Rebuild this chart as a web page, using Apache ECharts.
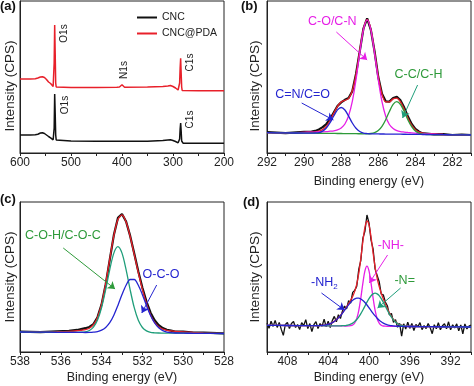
<!DOCTYPE html>
<html><head><meta charset="utf-8">
<script src="https://cdn.jsdelivr.net/npm/echarts/dist/echarts.min.js"></script>
<style>html,body{margin:0;padding:0;background:#fff}#c{width:474px;height:386px}</style>
</head><body><div id="c"></div>
<script>
// ---------- Panel (a): survey spectra ----------
const aEnergy = [600,580,570,565,560,556,552,548,544,540,537,535,534,533,532,531,530,529,528,500,450,410,405,402,400,398,395,350,320,310,305,300,295,292,290,288,287,286,285,284,283,282,280,250,200];
const aCNC = [18,18,18.2,18.8,20,20.3,19.5,18,16.5,15.2,13.8,13.2,14,25,59,40,18,13,12,12,11.8,11.7,11.7,11.7,11.7,11.7,11.7,11.8,12.5,13,13.2,12.5,11.5,10.5,10.2,10.5,14,24,30,22,12,10,9.7,9.7,9.7];
const aPDA = [74,74,74.3,75,76,76.3,75.5,73.5,71,69.5,67.5,66.5,68,90,128,100,70,66,65.5,65.5,65.5,65.7,66,66.8,68.2,66.5,65.8,66,66.5,67,67.5,66.5,65,63.5,63,63.5,70,85,94.7,80,66,62.5,62.3,62.3,62.3];

// ---------- Panel (b): C1s ----------
const bEnergy = [292,291,290,289.6,289.4,289.2,289.0,288.8,288.6,288.4,288.2,288.0,287.8,287.6,287.4,287.2,287.0,286.8,286.6,286.4,286.2,286.0,285.8,285.6,285.4,285.2,285.0,284.8,284.6,284.4,284.2,284.0,283.8,283.6,283.4,283.0,282.5,282.0,281.5,281.0];
const bRaw = [20.8,19.8,21.1,21.4,22.1,23.6,25.9,29.0,34.0,40.5,47.0,50.6,53.2,54.9,61.8,79.1,101.5,124.4,134.7,123.1,101.5,75.9,59.3,51.7,51.4,55.0,56.1,52.6,45.4,36.4,29.0,24.1,21.3,19.6,19.5,18.7,18.8,18.0,18.3,18.0];
const bEnvelope = [20.3,20.1,20.7,20.8,21.1,21.8,23.4,26.8,32.5,39.7,46.7,51.1,52.6,54.7,62.3,78.7,102.1,123.9,133.5,123.5,100.9,76.4,58.9,51.1,51.1,54.2,54.9,51.1,43.6,34.8,27.8,23.3,20.9,19.9,19.3,18.9,18.5,18.2,18.1,18.0];
const bCO = [20.3,20.1,20.7,20.8,20.9,21.1,21.2,21.4,21.8,22.2,23.1,25.1,29.0,37.2,51.6,73.3,99.9,123.2,133.2,123.1,99.7,73.1,51.3,36.8,28.5,24.5,22.4,21.4,20.95,20.5,20.1,19.8,19.5,19.3,19.1,18.9,18.5,18.2,18.1,18.0];
const bCC = [20.3,20.1,19.9,19.8,19.8,19.7,19.7,19.6,19.6,19.55,19.5,19.5,19.4,19.4,19.3,19.3,19.25,19.2,19.2,19.5,20.3,22.4,26.6,33.3,41.5,48.6,51.3,48.5,41.4,33.0,26.3,21.9,19.8,18.9,18.5,18.4,18.3,18.2,18.1,18.0];
const bCN = [20.3,20.1,19.9,19.8,20.0,20.4,21.9,25.0,30.3,37.0,43.1,45.5,43.0,36.9,30.0,24.7,21.5,19.9,19.4,19.1,19.1,19.05,19.0,18.96,18.9,18.9,18.8,18.8,18.75,18.7,18.7,18.6,18.6,18.5,18.5,18.4,18.3,18.2,18.1,18.0];

// ---------- Panel (c): O1s ----------
const cEnergy = [538,537,536.2,535.6,535.2,535.0,534.8,534.6,534.4,534.2,534.0,533.8,533.6,533.4,533.2,533.0,532.8,532.6,532.4,532.2,532.0,531.8,531.6,531.4,531.2,531.0,530.8,530.6,530.4,530.0,529.5,529.0,528.0];
const cRaw = [20.4,19.85,20.6,21.1,22.05,22.95,23.8,25.0,27.9,34.8,47.6,67.6,92.4,116.9,134.1,138.05,130.5,116.1,98.6,80.5,64.3,50.4,39.3,31.7,26.8,23.85,22.3,21.4,20.4,20.3,19.3,19.35,18.7];
const cEnvelope = [20.0,20.15,20.3,20.6,21.25,21.75,22.3,23.8,27.3,34.6,48.1,68.4,92.9,116.4,132.6,137.05,130.0,115.5,97.6,79.3,62.7,48.4,37.1,29.7,25.2,22.85,21.7,21.1,20.6,20.0,19.5,19.15,18.7];
const cCOH = [20.0,19.85,19.7,19.6,19.65,19.75,20.1,21.5,24.9,32.0,44.5,62.4,82.5,98.9,105.3,98.85,82.4,62.2,44.3,31.7,24.5,21.1,19.6,19.2,19.0,18.95,18.9,18.9,18.9,18.8,18.7,18.65,18.5];
const cOCO = [20.0,19.85,19.7,19.6,19.6,19.55,19.5,19.6,19.9,20.4,21.8,24.6,29.3,36.8,46.6,57.45,66.8,72.5,72.5,66.7,57.3,46.4,36.5,29.0,24.2,21.35,19.9,19.3,19.0,18.8,18.7,18.65,18.5];

// ---------- Panel (d): N1s ----------
const dEnergy = [410,409.8,409.6,409.4,409.2,409,408.8,408.6,408.4,408.2,408,407.8,407.6,407.4,407.2,407,406.8,406.6,406.4,406.2,406,405.8,405.6,405.4,405.2,405,404.8,404.6,404.4,404.2,404,403.8,403.6,403.4,403.2,403,402.8,402.6,402.4,402.2,402,401.8,401.6,401.4,401.2,401,400.8,400.6,400.4,400.2,400,399.8,399.6,399.4,399.2,399,398.8,398.6,398.4,398.2,398,397.8,397.6,397.4,397.2,397,396.8,396.6,396.4,396.2,396,395.8,395.6,395.4,395.2,395,394.8,394.6,394.4,394.2,394,393.8,393.6,393.4,393.2,393,392.8,392.6,392.4,392.2,392,391.8,391.6,391.4,391.2,391,390.8,390.6,390.4,390.2,390];
const dRaw = [28.7,23.7,30.7,25.6,31.6,24.6,29.6,22.6,16.6,27.5,29.5,23.5,28.5,30.5,24.5,27.4,22.4,29.4,26.4,32.4,23.4,28.4,20.4,27.4,30.4,23.5,28.5,25.6,32.9,25.2,30.7,24.4,31.4,35.6,30.2,37.2,33.5,41.1,46.0,43.1,51.3,48.8,59.6,61.6,65.9,82.8,91.7,113.7,120.7,137.0,129.1,111.9,103.2,82.9,76.6,70.3,57.8,57.2,50.0,46.3,37.1,38.5,29.6,32.4,24.7,28.6,15.8,28.2,22.9,29.7,23.6,28.5,21.5,27.5,25.4,29.4,22.4,26.4,23.4,28.4,24.3,18.3,27.3,23.3,29.3,22.3,26.2,28.2,23.2,30.2,22.2,27.2,24.1,28.1,21.1,27.1,18.1,28.1,23.0,26.0,27.0];
const dFitEnergy = [410,408,406,405,404.6,404.2,403.8,403.4,403.0,402.8,402.6,402.4,402.2,402.0,401.8,401.6,401.4,401.2,401.0,400.8,400.6,400.4,400.2,400.0,399.8,399.6,399.4,399.2,399.0,398.8,398.6,398.4,398.2,398.0,397.8,397.6,397.4,397.2,397.0,396.6,396.2,395.8,395.4,395,394,392,390];
const dEnvelope = [26.7,26.5,26.4,26.45,26.6,27.2,28.4,30.6,34.2,36.5,39.1,42.0,45.1,48.3,51.8,55.6,60.6,67.9,78.8,93.7,110.7,124.7,131.0,127.1,114.9,99.2,84.9,73.6,65.3,58.8,53.2,48.0,43.3,39.1,35.5,32.6,30.4,28.7,27.6,26.2,25.7,25.5,25.5,25.4,25.3,25.2,25.0];
const dNH = [26.7,26.5,26.4,26.3,26.3,26.2,26.2,26.1,26.1,26.1,26.1,26.0,26.0,26.1,26.3,27.0,29.0,33.5,41.7,54.2,68.9,81.1,85.9,81.1,68.8,54.1,41.6,33.3,28.8,26.8,26.0,25.8,25.7,25.7,25.7,25.6,25.6,25.6,25.6,25.6,25.5,25.5,25.5,25.4,25.3,25.2,25.0];
const dN = [26.7,26.5,26.4,26.3,26.3,26.2,26.2,26.1,26.15,26.2,26.3,26.4,26.7,27.1,27.85,28.9,30.5,32.45,35.1,38.3,42.0,45.9,49.9,53.45,56.3,58.1,58.8,58.1,56.3,53.35,49.7,45.7,41.8,38.1,34.9,32.15,30.1,28.5,27.45,26.2,25.7,25.5,25.5,25.4,25.3,25.2,25.0];
const dNH2 = [26.7,26.5,26.4,26.45,26.6,27.2,28.4,30.55,34.1,36.4,38.9,41.65,44.4,47.1,49.6,51.7,53.1,53.85,53.85,53.0,51.6,49.5,47.0,44.25,41.4,38.6,36.1,33.8,31.8,30.2,28.9,27.9,27.2,26.7,26.3,26.05,25.85,25.75,25.7,25.6,25.5,25.5,25.5,25.4,25.3,25.2,25.0];

// ---------- build chart ----------
const FONT = '"Liberation Sans", Arial, Helvetica, sans-serif';
const AX = '#222';
const RED = '#e8202a', BLACK = '#111', MAG = '#e61ee6', GRN = '#2e9a3a', TEAL = '#1f9e7a', BLUE = '#2424d0';
const pair = (xs, ys) => xs.map((x, i) => [x, ys[i]]);

function xAxis(grid, min, max, interval, every, name, nameGap) {
  return {
    type: 'value', gridIndex: grid, inverse: true, min, max, interval,
    axisLine: { show: true, onZero: false, lineStyle: { color: AX, width: 1 } },
    axisTick: { show: true, inside: false, length: 3, lineStyle: { color: AX } },
    axisLabel: { show: true, margin: 4, fontSize: 12, color: '#222', fontFamily: FONT,
      showMinLabel: true, showMaxLabel: true,
      formatter: v => (Math.round(v) % every === 0 ? String(Math.round(v)) : '') },
    splitLine: { show: false },
    name: name || '', nameLocation: 'middle', nameGap: nameGap || 0,
    nameTextStyle: { fontSize: 12.5, color: '#222', fontFamily: FONT }
  };
}
function yAxis(grid, max, gap, pad) {
  return {
    type: 'value', gridIndex: grid, min: 0, max,
    axisLine: { show: true, onZero: false, lineStyle: { color: AX } },
    axisTick: { show: false }, axisLabel: { show: false }, splitLine: { show: false },
    name: 'Intensity (CPS)', nameLocation: 'middle', nameGap: gap,
    nameTextStyle: { fontSize: 13.5, color: '#222', fontFamily: FONT, padding: pad }
  };
}
function line(name, idx, data, color, width, smooth, extra) {
  return Object.assign({
    type: 'line', name, xAxisIndex: idx, yAxisIndex: idx, data,
    showSymbol: false, symbol: 'none', smooth: smooth || false,
    lineStyle: { color, width }, itemStyle: { color },
    silent: true, animation: false
  }, extra || {});
}
function textMarks(list, color, size, rotate) {
  return {
    silent: true, animation: false, symbol: 'circle', symbolSize: 0,
    data: list.map(t => ({
      coord: t.at, value: 0,
      label: { show: true, position: 'inside', formatter: t.text, color, fontSize: size,
        fontFamily: FONT, rotate: rotate || 0,
        rich: { m: { fontSize: size, color, fontFamily: FONT }, s: { fontSize: 8, color, fontFamily: FONT, padding: [7, 0, 0, 0] } } }
    }))
  };
}
function arrows(list, color) {
  return {
    silent: true, animation: false, symbol: ['none', 'arrow'], symbolSize: 7,
    label: { show: false }, lineStyle: { color, width: 1, type: 'solid' },
    emphasis: { disabled: true },
    data: list.map(a => [{ coord: a[0] }, { coord: a[1] }])
  };
}

const option = {
  animation: false,
  textStyle: { fontFamily: FONT },
  grid: [
    { left: 20, top: 1, width: 204, height: 152, show: true, borderColor: AX, borderWidth: 1 },
    { left: 267, top: 1, width: 206, height: 152, show: true, borderColor: AX, borderWidth: 1 },
    { left: 20, top: 202, width: 204, height: 150, show: true, borderColor: AX, borderWidth: 1 },
    { left: 267, top: 202, width: 206, height: 150, show: true, borderColor: AX, borderWidth: 1 }
  ],
  xAxis: [
    xAxis(0, 200, 600, 50, 100),
    xAxis(1, 281, 292, 1, 2, 'Binding energy (eV)', 22),
    xAxis(2, 528, 538, 1, 2, 'Binding energy (eV)', 19),
    xAxis(3, 390, 410, 2, 4, 'Binding energy (eV)', 19)
  ],
  yAxis: [
    yAxis(0, 152, 3, [0, 18, 0, 0]),
    yAxis(1, 152, 5, [0, 18, 0, 0]),
    yAxis(2, 150, 3, 0),
    yAxis(3, 150, 5, 0)
  ],
  legend: {
    data: ['CNC', 'CNC@PDA'], orient: 'vertical', left: 137, top: 12, padding: 0,
    icon: 'rect', itemWidth: 20, itemHeight: 2, itemGap: 5,
    textStyle: { fontSize: 10.5, color: '#222', fontFamily: FONT }
  },
  graphic: [
    { type: 'text', left: 0, top: 0, style: { text: '(a)', font: 'bold 13px ' + FONT, fill: '#111' } },
    { type: 'text', left: 241, top: 0, style: { text: '(b)', font: 'bold 13px ' + FONT, fill: '#111' } },
    { type: 'text', left: 0, top: 193, style: { text: '(c)', font: 'bold 13px ' + FONT, fill: '#111' } },
    { type: 'text', left: 243, top: 196, style: { text: '(d)', font: 'bold 13px ' + FONT, fill: '#111' } }
  ],
  series: [
    // (a)
    line('CNC', 0, pair(aEnergy, aCNC), BLACK, 1.5, false, {
      markPoint: textMarks([{ text: 'O1s', at: [511.8, 48] }, { text: 'C1s', at: [265.7, 33.5] }], '#222', 10, 90)
    }),
    line('CNC@PDA', 0, pair(aEnergy, aPDA), RED, 1.5, false, {
      markPoint: textMarks([{ text: 'O1s', at: [513.7, 119.5] }, { text: 'N1s', at: [395.1, 83] }, { text: 'C1s', at: [265.7, 90.5] }], '#222', 10, 90)
    }),
    // (b)
    line('b raw', 1, pair(bEnergy, bRaw), BLACK, 2.2),
    line('b envelope', 1, pair(bEnergy, bEnvelope), RED, 1.3, 0.3),
    line('b C-O', 1, pair(bEnergy, bCO), MAG, 1.3, 0.3, {
      markPoint: textMarks([{ text: 'C-O/C-N', at: [288.48, 131] }], MAG, 12.5),
      markLine: arrows([[[288.26, 121], [286.6, 93]]], MAG)
    }),
    line('b C-C', 1, pair(bEnergy, bCC), GRN, 1.3, 0.3, {
      markPoint: textMarks([{ text: 'C-C/C-H', at: [283.83, 78] }], GRN, 12.5),
      markLine: arrows([[[283.88, 68], [284.69, 35]]], TEAL)
    }),
    line('b C=N', 1, pair(bEnergy, bCN), BLUE, 1.3, 0.3, {
      markPoint: textMarks([{ text: 'C=N/C=O', at: [290.08, 58] }], BLUE, 12.5),
      markLine: arrows([[[290.13, 50], [288.42, 33]]], BLUE)
    }),
    // (c)
    line('c raw', 2, pair(cEnergy, cRaw), BLACK, 2.2),
    line('c envelope', 2, pair(cEnergy, cEnvelope), RED, 1.3, 0.3),
    line('c C-O-H', 2, pair(cEnergy, cCOH), TEAL, 1.3, 0.3, {
      markPoint: textMarks([{ text: 'C-O-H/C-O-C', at: [535.9, 116] }], GRN, 12.5),
      markLine: arrows([[[535.88, 104], [533.34, 63]]], GRN)
    }),
    line('c O-C-O', 2, pair(cEnergy, cOCO), BLUE, 1.3, 0.3, {
      markPoint: textMarks([{ text: 'O-C-O', at: [531.09, 77] }], BLUE, 12.5),
      markLine: arrows([[[531.3, 67], [532.03, 39]]], BLUE)
    }),
    // (d)
    line('d raw', 3, pair(dEnergy, dRaw), BLACK, 1.3),
    line('d envelope', 3, pair(dFitEnergy, dEnvelope), RED, 1.3, 0.3),
    line('d NH', 3, pair(dFitEnergy, dNH), MAG, 1.3, 0.3, {
      markPoint: textMarks([{ text: '-NH-', at: [397.86, 106] }], MAG, 12.5),
      markLine: arrows([[[398.18, 97], [399.97, 69]]], MAG)
    }),
    line('d N', 3, pair(dFitEnergy, dN), TEAL, 1.3, 0.3, {
      markPoint: textMarks([{ text: '-N=', at: [396.5, 71] }], GRN, 12.5),
      markLine: arrows([[[396.9, 64], [399.16, 44]]], TEAL)
    }),
    line('d NH2', 3, pair(dFitEnergy, dNH2), BLUE, 1.3, 0.3, {
      markPoint: textMarks([{ text: '{m|-NH}{s|2}', at: [404.37, 69] }], BLUE, 12.5),
      markLine: arrows([[[404.66, 59], [402.4, 42]]], BLUE)
    })
  ]
};
const chart = echarts.init(document.getElementById('c'), null, { renderer: 'canvas' });
chart.setOption(option);
</script></body></html>
